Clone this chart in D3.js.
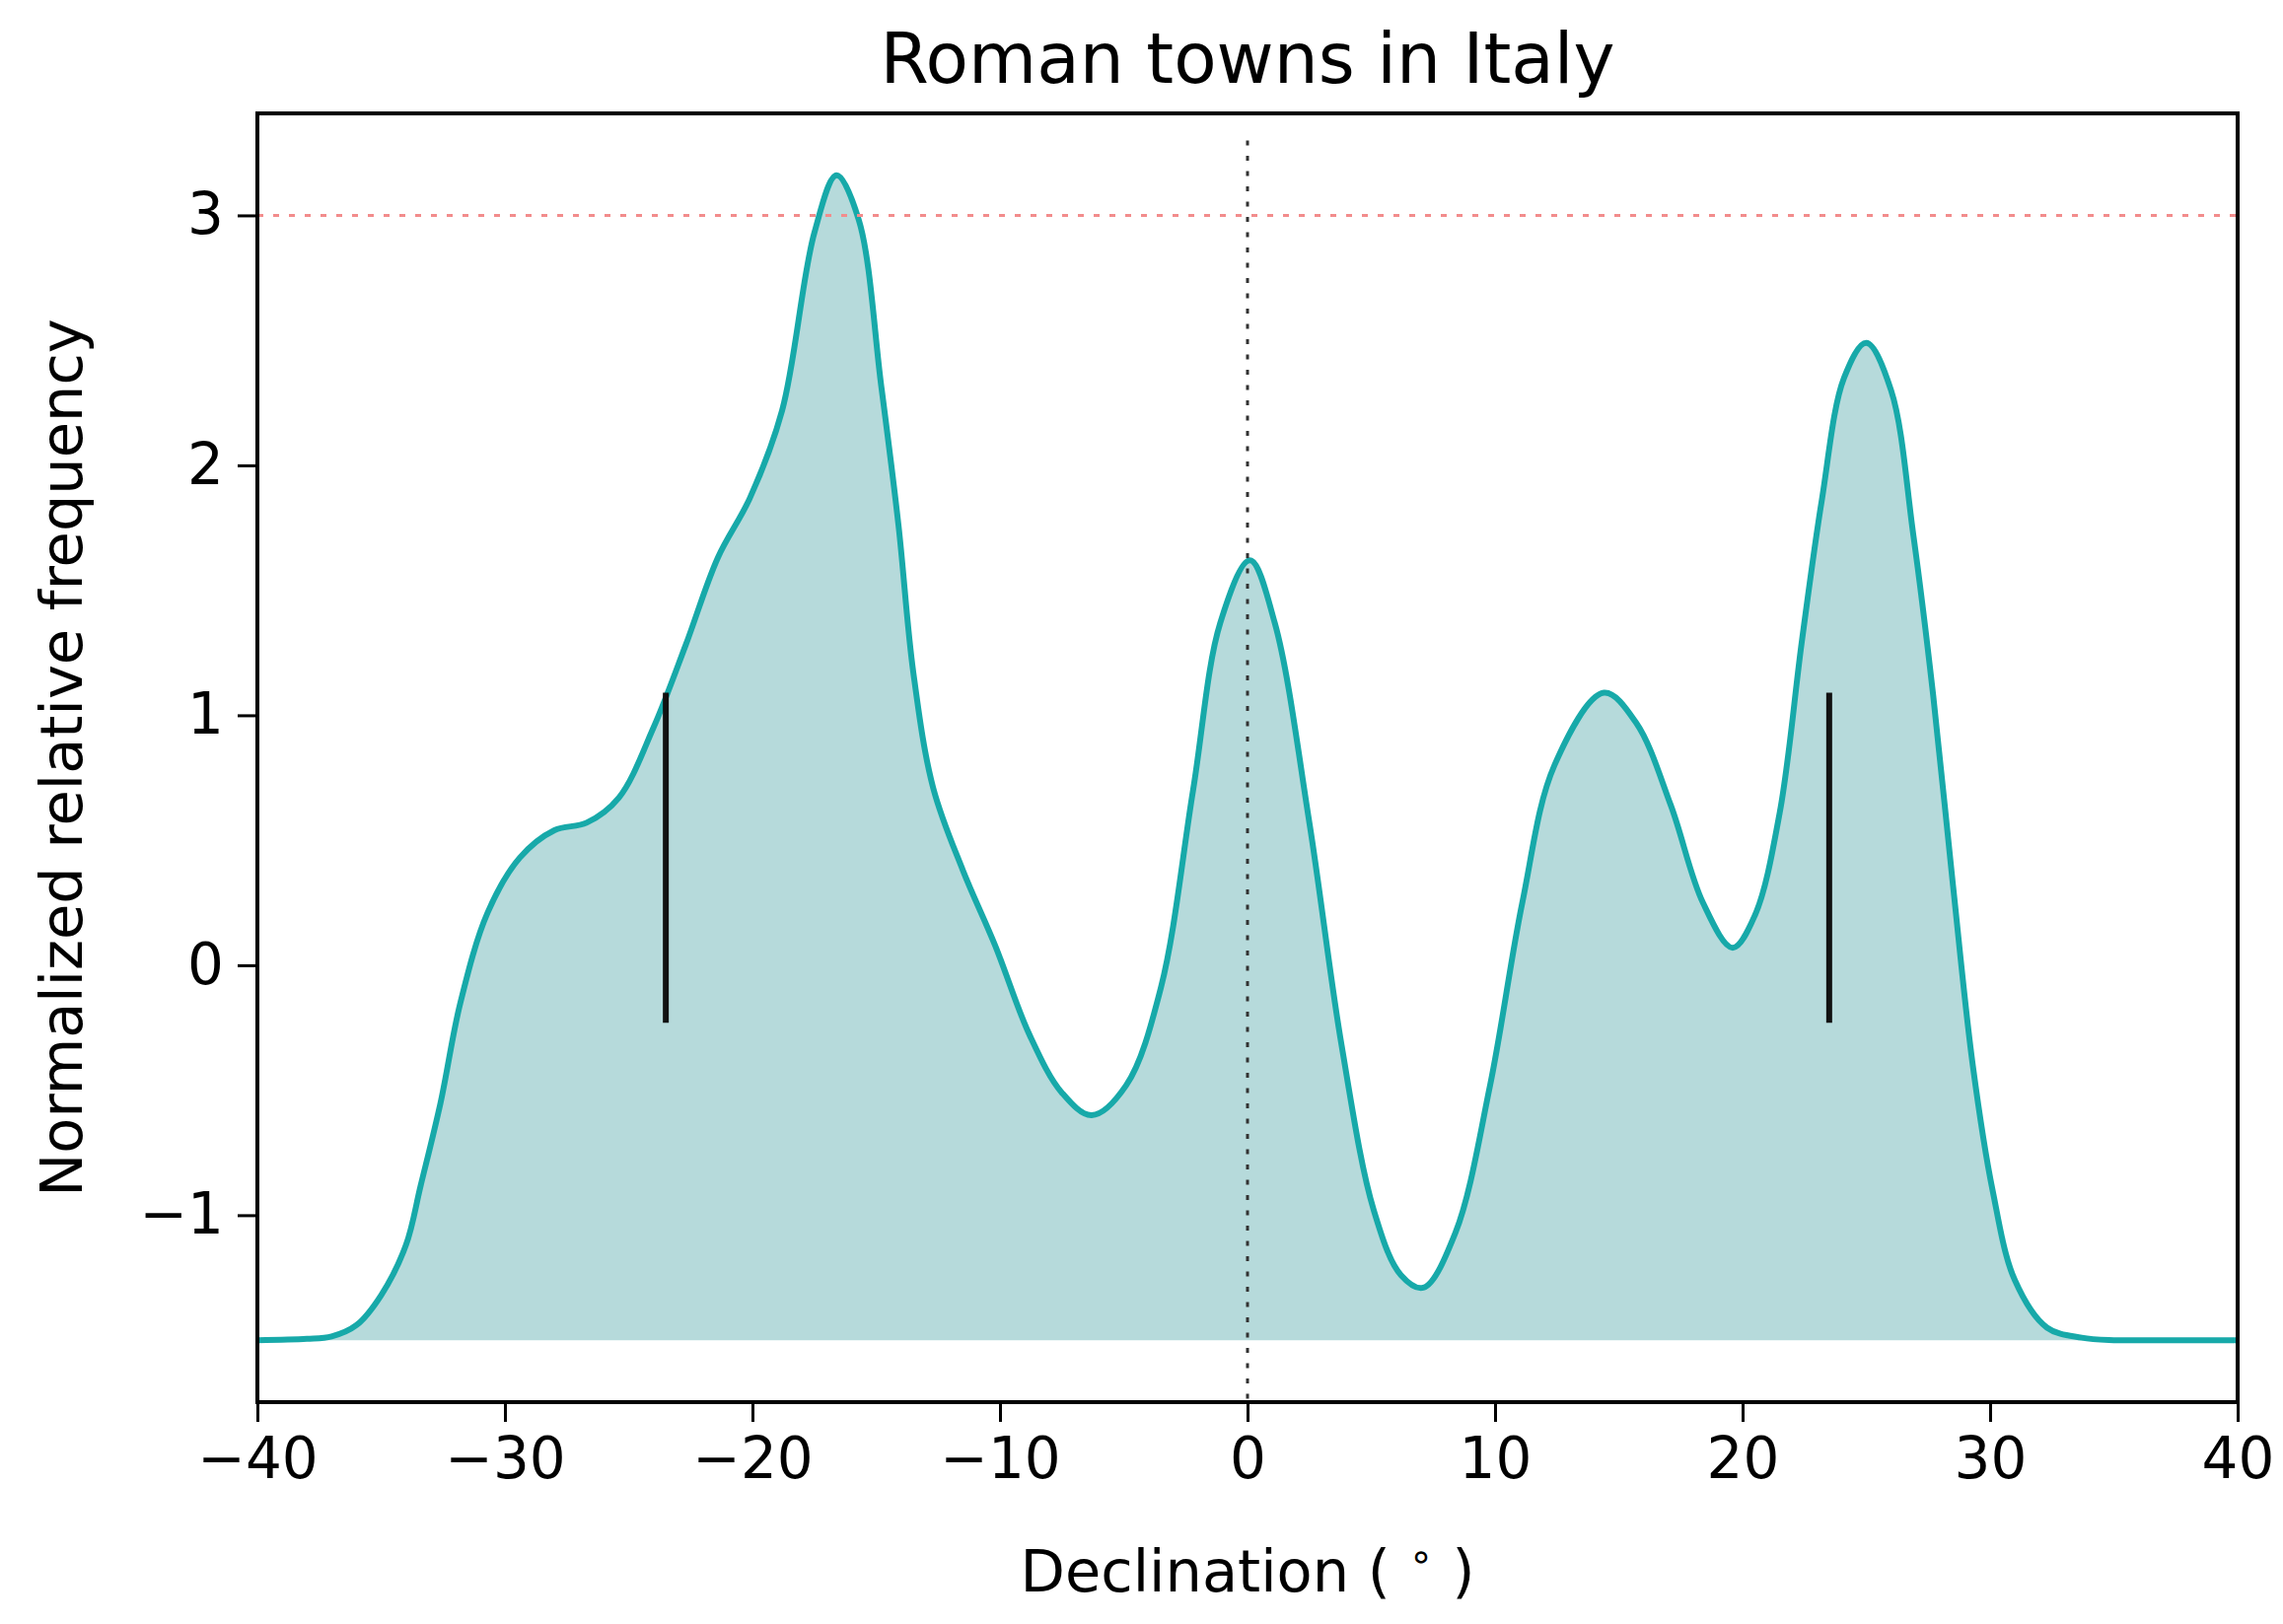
<!DOCTYPE html>
<html>
<head>
<meta charset="utf-8">
<script src="https://d3js.org/d3.v7.min.js"></script>
<style>
  body { margin: 0; background: #fff; }
  text { font-family: "DejaVu Sans", sans-serif; fill: #000; }
</style>
</head>
<body>
<svg id="chart" width="2315" height="1647"></svg>
<script>
// density curve
var declination = [-40, -38, -37, -36, -35, -34, -33.4, -32.6, -31.8, -30.7, -29.4, -28, -26.7, -25.4,
    -24, -22.7, -21.4, -20.1, -18.8, -17.5, -16.6, -15.7, -14.8, -14.1, -13.5, -12.7, -11.5, -10.2,
    -8.8, -7.5, -6.3, -4.9, -3.5, -2.2, -1.1, 0.1, 1.1, 2.5, 3.8, 5.1, 6.2, 7.1, 8.4, 9.8, 11.1,
    12.4, 14.4, 15.7, 17.1, 18.4, 19.6, 20.5, 21.5, 22.4, 23.2, 24.1, 25.0, 26.0, 26.9, 27.7,
    28.5, 29.3, 30.1, 31.0, 32.3, 33.7, 35, 37, 40];
var frequency = [-1.50, -1.495, -1.485, -1.44, -1.32, -1.12, -0.88, -0.55, -0.15, 0.21, 0.43, 0.54, 0.57, 0.67,
    0.95, 1.28, 1.63, 1.87, 2.22, 2.93, 3.16, 2.98, 2.32, 1.76, 1.17, 0.71, 0.38, 0.08,
    -0.28, -0.51, -0.60, -0.48, -0.09, 0.70, 1.37, 1.62, 1.37, 0.57, -0.32, -0.98, -1.24, -1.29, -1.07, -0.48, 0.25,
    0.80, 1.09, 0.97, 0.64, 0.25, 0.07, 0.20, 0.61, 1.30, 1.86, 2.35, 2.49, 2.30, 1.72, 1.08,
    0.32, -0.40, -0.90, -1.26, -1.45, -1.49, -1.50, -1.50, -1.50];
var baseline = -1.5;

// solstice markers
var solstices = [-23.5, 23.5];
var solsticeSpan = [-0.23, 1.09];
var threshold = 3;

var xTicks = [-40, -30, -20, -10, 0, 10, 20, 30, 40];
var yTicks = [-1, 0, 1, 2, 3];

var svg = d3.select("#chart"),
    margin = {top: 115, right: 46, bottom: 225, left: 261},
    width = +svg.attr("width") - margin.left - margin.right,
    height = +svg.attr("height") - margin.top - margin.bottom;

var xScale = d3.scaleLinear().domain([-40, 40]).range([0, width]),
    yScale = d3.scaleLinear().domain([-1.748, 3.408]).range([height, 0]);

var g = svg.append("g")
    .attr("transform", "translate(" + margin.left + "," + margin.top + ")");

var pts = declination.map(function (d, i) { return [d, frequency[i]]; });

// fill + curve
var area = d3.area()
    .x(function (d) { return xScale(d[0]); })
    .y0(yScale(baseline))
    .y1(function (d) { return yScale(d[1]); })
    .curve(d3.curveCatmullRom.alpha(0.5));

var line = d3.line()
    .x(function (d) { return xScale(d[0]); })
    .y(function (d) { return yScale(d[1]); })
    .curve(d3.curveCatmullRom.alpha(0.5));

g.append("path")
    .datum(pts)
    .attr("d", area)
    .style("fill", "#b6dadb");

g.append("path")
    .datum(pts)
    .attr("d", line)
    .style("fill", "none")
    .style("stroke", "#17a9a9")
    .style("stroke-width", 6);

// red threshold line
g.append("line")
    .attr("x1", 0).attr("x2", width)
    .attr("y1", yScale(threshold)).attr("y2", yScale(threshold))
    .style("stroke", "#f28c8c")
    .style("stroke-width", 3)
    .style("stroke-dasharray", "6,10");

// dotted line at 0
g.append("line")
    .attr("x1", xScale(0)).attr("x2", xScale(0))
    .attr("y1", yScale(3.3)).attr("y2", height)
    .style("stroke", "#333")
    .style("stroke-width", 3)
    .style("stroke-dasharray", "5,10.5");

g.selectAll(".sol")
    .data(solstices)
    .enter()
    .append("line")
    .attr("x1", function (d) { return xScale(d); })
    .attr("x2", function (d) { return xScale(d); })
    .attr("y1", yScale(solsticeSpan[0]))
    .attr("y2", yScale(solsticeSpan[1]))
    .style("stroke", "#111")
    .style("stroke-width", 6);

// axes
var fmt = function (d) { return d < 0 ? "\u2212" + Math.abs(d) : "" + d; };

var xAxis = g.append("g")
    .attr("transform", "translate(0," + height + ")")
    .call(d3.axisBottom(xScale).tickValues(xTicks).tickFormat(fmt).tickSize(20).tickPadding(16));

var yAxis = g.append("g")
    .call(d3.axisLeft(yScale).tickValues(yTicks).tickFormat(fmt).tickSize(20).tickPadding(14));

[xAxis, yAxis].forEach(function (a) {
    a.select(".domain").remove();
    a.selectAll(".tick line").style("stroke", "#000").style("stroke-width", 3);
    a.selectAll(".tick text").style("font-family", "DejaVu Sans").style("font-size", "58px").style("fill", "#000");
});

// frame
g.append("rect")
    .attr("width", width).attr("height", height)
    .style("fill", "none")
    .style("stroke", "#000")
    .style("stroke-width", 4);

// title
svg.append('text')
    .attr('x', margin.left + width / 2)
    .attr('y', 84)
    .attr('text-anchor', 'middle')
    .style('font-size', '71px')
    .text('Roman towns in Italy');

// X label
var xl = svg.append('text')
    .attr('x', margin.left + width / 2)
    .attr('y', 1614)
    .attr('text-anchor', 'middle')
    .style('font-size', '59px')
    .text('Declination ( ');
xl.append('tspan').attr('dy', -22).style('font-size', '40px').text('\u2218');
xl.append('tspan').attr('dy', 22).text(' )');

// Y label
svg.append('text')
    .attr('text-anchor', 'middle')
    .attr('transform', 'translate(83,' + (margin.top + height / 2) + ')rotate(-90)')
    .style('font-size', '59px')
    .text('Normalized relative frequency');
</script>
</body>
</html>
